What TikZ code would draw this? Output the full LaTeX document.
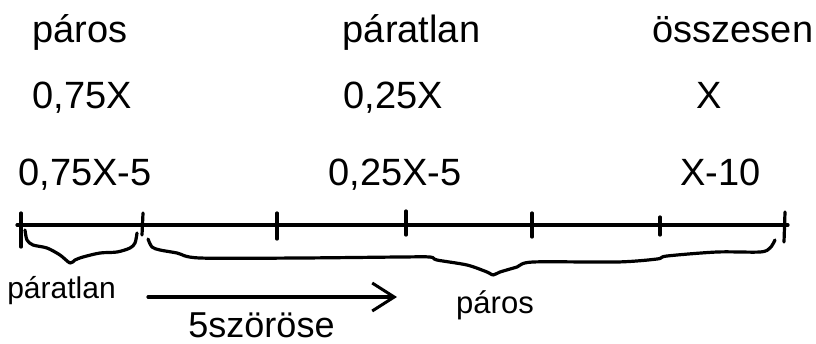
\documentclass[tikz,border=0pt]{standalone}
\usepackage{fontspec}
\setmainfont{Liberation Sans}
\usetikzlibrary{arrows.meta}
\begin{document}
\begin{tikzpicture}[x=1pt,y=-1pt,
  big/.style={inner sep=0pt,anchor=base,font=\fontsize{38}{40}\selectfont},
  small/.style={inner sep=0pt,anchor=base,font=\fontsize{30}{32}\selectfont},
  mid/.style={inner sep=0pt,anchor=base,font=\fontsize{36}{38}\selectfont},
  ink/.style={line width=3.2pt,line cap=round,line join=round},
  brace/.style={line width=3.2pt,line cap=round,line join=round}]
\useasboundingbox (0,0) rectangle (816,343);
% headings
\node[big] (h1) at (80,42) {páros};
\node[big] (h2) at (411.5,42) {páratlan};
\node[big] (h3) at (733,42) {összesen};
\node[big] (r1) at (82.5,108) {0,75X};
\node[big] (r2) at (393,108) {0,25X};
\node[big] (r3) at (709.5,108) {X};
\node[big] (s1) at (85,185) {0,75X-5};
\node[big] (s2) at (395,185) {0,25X-5};
\node[big] (s3) at (720.5,185) {X-10};
% number line
\coordinate (L) at (17,225);
\coordinate (R) at (788,225);
\draw[ink] (L) -- (R);
\draw[ink] (21,213) -- (21,247);
\draw[ink] (143,213) -- (142,235);
\draw[ink] (277,213) -- (277,239);
\draw[ink] (406,211) -- (406,235);
\draw[ink] (532,213) -- (532,237);
\draw[ink] (660,217) -- (660,235);
\draw[ink] (785,212) -- (784,242);
% braces
\draw[brace] plot[smooth,tension=0.5] coordinates {(25,230) (27,240) (33,245) (47,248) (60,255) (70,263) (75,260) (83,257) (100,253) (117,252) (130,248) (135,243) (137,233)};
\draw[brace] plot[smooth,tension=0.5] coordinates {(148,239) (152,247) (160,250) (177,253) (200,258) (300,258) (400,257) (430,257) (437,260) (467,265) (487,272) (493,275) (500,272) (517,267) (533,262) (617,262) (657,259) (667,256) (717,252) (760,252) (770,248) (775,240)};
% lower labels
\node[small] (p1) at (61.5,298) {páratlan};
\node[small,font=\fontsize{31}{33}\selectfont] (p2) at (495,313) {páros};
\coordinate (a1) at (148,297);
\coordinate (a2) at (397,297);
\draw[ink,-{Straight Barb[length=22pt,width=28pt,line width=3pt]}] (a1) -- (a2);
\node[mid] (m) at (261.5,337) {5szörösе};
\end{tikzpicture}
\end{document}
